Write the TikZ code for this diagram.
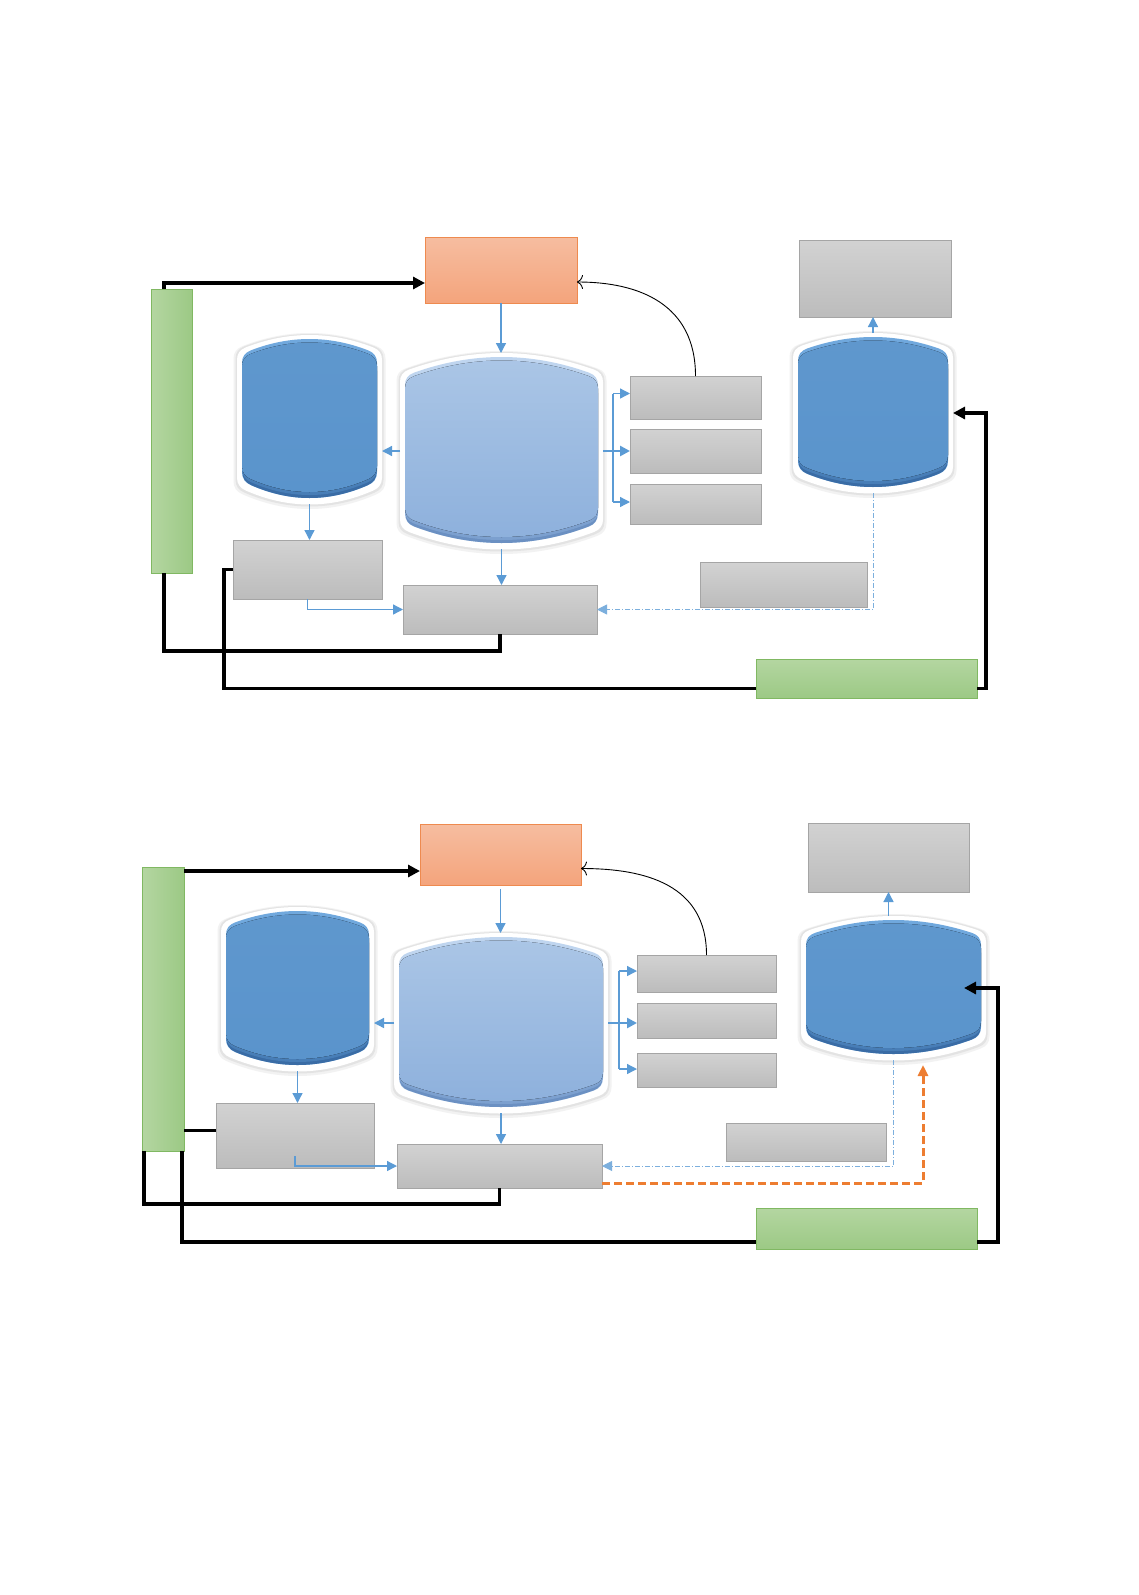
\documentclass[tikz,border=0pt]{standalone}
\usetikzlibrary{arrows.meta,calc}
\definecolor{gbTop}{HTML}{D2D2D2}
\definecolor{gbBot}{HTML}{BCBCBC}
\definecolor{gbBorder}{HTML}{A5A5A5}
\definecolor{orTop}{HTML}{F6BDA0}
\definecolor{orBot}{HTML}{F4A47C}
\definecolor{orBorder}{HTML}{EE8A4F}
\definecolor{grL}{HTML}{B4D6A1}
\definecolor{grR}{HTML}{9CC985}
\definecolor{grBorder}{HTML}{80B862}
\definecolor{arrBlue}{HTML}{5B9BD5}
\definecolor{dkBody}{HTML}{5A94CC}
\definecolor{dkRim}{HTML}{3A6CA5}
\definecolor{dkTop}{HTML}{70A8DD}
\definecolor{ltBodyT}{HTML}{ABC6E6}
\definecolor{ltBodyB}{HTML}{8DB0DC}
\definecolor{ltRim}{HTML}{6B90C2}
\definecolor{ltTop}{HTML}{BFD5EF}
\definecolor{orDash}{HTML}{ED7D31}
\tikzset{
  anchorbox/.style={inner sep=0pt, outer sep=0pt},
  graybox/.style={anchorbox, draw=gbBorder, line width=0.9pt, top color=gbTop, bottom color=gbBot},
  orangebox/.style={anchorbox, draw=orBorder, line width=0.9pt, top color=orTop, bottom color=orBot},
  greenv/.style={anchorbox, draw=grBorder, line width=0.9pt, left color=grL, right color=grR},
  greenh/.style={anchorbox, draw=grBorder, line width=0.9pt, top color=grL, bottom color=grR},
  dktop/.style={fill=dkTop},
  dkrim/.style={fill=dkRim},
  dkrimb/.style={fill=dkRim!55!dkBody},
  dkbody/.style={top color=dkBody!97!white, bottom color=dkBody},
  lttop/.style={fill=ltTop},
  ltrim/.style={fill=ltRim},
  ltrimb/.style={fill=ltRim!50!ltBodyB},
  ltbody/.style={top color=ltBodyT, bottom color=ltBodyB},
  blk/.style={line width=3.2pt, black},
  blkarrow/.style={blk, -{Triangle[length=12pt,width=12pt]}},
  blueline/.style={line width=1.3pt, arrBlue},
  bluarrow/.style={blueline, -{Triangle[length=10pt,width=10pt]}},
  dasharrow/.style={line width=0.9pt, color=arrBlue!80!white, dash pattern=on 5pt off 2pt on 1pt off 2pt, -{Triangle[length=10pt,width=10pt]}},
  orarrow/.style={line width=3pt, orDash, dash pattern=on 8pt off 4pt, -{Triangle[length=11pt,width=10pt]}},
  curvearrow/.style={line width=0.9pt, black, -{To[length=6pt,width=14pt]}}
}
\newcommand\bshape[7]{%
 \pgfmathsetmacro\zzxa{#2}\pgfmathsetmacro\zzya{#3}\pgfmathsetmacro\zzxb{#4}\pgfmathsetmacro\zzyb{#5}%
 \pgfmathsetmacro\zzw{(\zzxb-\zzxa)/2}\pgfmathsetmacro\zzxm{(\zzxa+\zzxb)/2}%
 \pgfmathsetmacro\zzr{9}%
 \pgfmathsetmacro\zzdx{\zzw-\zzr}%
 \pgfmathsetmacro\zzk{(#6)/(\zzw*\zzw)}%
 \pgfmathsetmacro\zzyP{\zzya+\zzk*\zzdx*\zzdx}%
 \pgfmathsetmacro\zzyC{\zzya-\zzk*\zzdx*\zzdx}%
 \pgfmathsetmacro\zzyK{\zzyP+2*\zzk*\zzdx*\zzr}%
 \pgfmathsetmacro\zzyS{\zzyK+\zzr}%
 \pgfmathsetmacro\zzkb{(#7)/(\zzw*\zzw)}%
 \pgfmathsetmacro\zzyPb{\zzyb-\zzkb*\zzdx*\zzdx}%
 \pgfmathsetmacro\zzyCb{\zzyb+\zzkb*\zzdx*\zzdx}%
 \pgfmathsetmacro\zzyKb{\zzyPb-2*\zzkb*\zzdx*\zzr}%
 \pgfmathsetmacro\zzySb{\zzyKb-\zzr}%
 \pgfmathsetmacro\zzxP{\zzxa+\zzr}\pgfmathsetmacro\zzxQ{\zzxb-\zzr}%
 \fill[#1] (\zzxa,\zzyS)
   .. controls (\zzxa,{\zzyS+2/3*(\zzyK-\zzyS)}) and ({\zzxP-2/3*\zzr},{\zzyP+2/3*(\zzyK-\zzyP)}) .. (\zzxP,\zzyP)
   .. controls ({\zzxP+2/3*(\zzxm-\zzxP)},{\zzyP+2/3*(\zzyC-\zzyP)}) and ({\zzxQ-2/3*(\zzxQ-\zzxm)},{\zzyP+2/3*(\zzyC-\zzyP)}) .. (\zzxQ,\zzyP)
   .. controls ({\zzxQ+2/3*\zzr},{\zzyP+2/3*(\zzyK-\zzyP)}) and (\zzxb,{\zzyS+2/3*(\zzyK-\zzyS)}) .. (\zzxb,\zzyS)
   -- (\zzxb,\zzySb)
   .. controls (\zzxb,{\zzySb+2/3*(\zzyKb-\zzySb)}) and ({\zzxQ+2/3*\zzr},{\zzyPb+2/3*(\zzyKb-\zzyPb)}) .. (\zzxQ,\zzyPb)
   .. controls ({\zzxQ-2/3*(\zzxQ-\zzxm)},{\zzyPb+2/3*(\zzyCb-\zzyPb)}) and ({\zzxP+2/3*(\zzxm-\zzxP)},{\zzyPb+2/3*(\zzyCb-\zzyPb)}) .. (\zzxP,\zzyPb)
   .. controls ({\zzxP-2/3*\zzr},{\zzyPb+2/3*(\zzyKb-\zzyPb)}) and (\zzxa,{\zzySb+2/3*(\zzyKb-\zzySb)}) .. (\zzxa,\zzySb)
   -- cycle;}
\newcommand\barrel[8]{%
 \bshape{black!5}{#2-8.5}{#3-6}{#4+8.5}{#5+11}{#6+2}{#7+2}%
 \bshape{black!11}{#2-6.5}{#3-5}{#4+6.5}{#5+8.5}{#6+1}{#7+1}%
 \bshape{white}{#2-5}{#3-4}{#4+5}{#5+6.5}{#6+1}{#7+1}%
 \bshape{#8top}{#2}{#3}{#4}{#5}{#6}{#7}%
 \bshape{#8rim}{#2+0.5}{#3+8}{#4-0.5}{#5}{#6}{#7}%
 \bshape{#8rimb}{#2}{#3+8}{#4}{#5-3}{#6}{#7}%
 \bshape{#8body}{#2}{#3+3.5}{#4}{#5-6}{#6}{#7}%
 \node[anchorbox, minimum width={((#4)-(#2)+10)*1pt}, minimum height={((#5)-(#3)+10)*1pt}] (#1) at ({((#2)+(#4))/2},{((#3)+(#5))/2+1}) {};}
\newcommand\bx[6]{\node[#6, minimum width={((#4)-(#2))*1pt}, minimum height={((#5)-(#3))*1pt}] (#1) at ({((#2)+(#4))/2},{((#3)+(#5))/2}) {};}
\begin{document}
\begin{tikzpicture}[x=1pt,y=-1pt]
\useasboundingbox[fill=white] (0,0) rectangle (1139,1595);
% ================= TOP DIAGRAM =================
\bx{O1}{425}{237}{577}{303}{orangebox}
\bx{G1v}{151}{289}{192}{573}{greenv}
\bx{T1}{799}{240}{951}{317}{graybox}
\bx{S1}{630}{376}{761}{419}{graybox}
\bx{S2}{630}{429}{761}{473}{graybox}
\bx{S3}{630}{484}{761}{524}{graybox}
\bx{B1a}{233}{540}{382}{599}{graybox}
\bx{B1b}{403}{585}{597}{634}{graybox}
\bx{M1}{700}{562}{867}{607}{graybox}
\bx{H1}{756}{659}{977}{698}{greenh}
\barrel{L1}{242}{339}{377}{498}{15}{17}{dk}
\barrel{C1}{405}{357}{598}{543}{19}{20}{lt}
\barrel{R1}{798}{337}{948}{487}{15}{17}{dk}
% connectors
\draw[blkarrow] ([xshift=13pt]G1v.north west) |- ([yshift=-13pt]O1.west);
\draw[curvearrow] (S1.north) .. controls +(0,-72) and +(62,0) .. ([yshift=-12pt]O1.east);
\draw[bluarrow] (O1.south) -- (O1.south |- C1.north);
\draw[bluarrow] (C1.west) -- (C1.west -| L1.east);
\draw[bluarrow] (L1.south) -- (L1.south |- B1a.north);
\draw[bluarrow] (B1a.south) |- (B1b.west);
\draw[bluarrow] (C1.south) -- (C1.south |- B1b.north);
\coordinate (F1) at ([xshift=-17pt]S2.west);
\coordinate (s1w) at ([yshift=4pt]S1.west);
\coordinate (s3w) at ([yshift=2pt]S3.west);
\draw[blueline] (s1w -| F1) -- (s3w -| F1);
\draw[bluarrow] (s1w -| F1) -- (s1w);
\draw[bluarrow] (s3w -| F1) -- (s3w);
\draw[bluarrow, line width=2.8pt] (C1.east) -- (C1.east -| S2.west);
\draw[bluarrow] (R1.north) -- (R1.north |- T1.south);
\draw[dasharrow] (R1.south) |- (B1b.east);
\draw[blkarrow] ([yshift=-10pt]H1.east) -- ++(9,0) |- (R1.east);
\draw[blk] ([yshift=-10pt]H1.west) -| ([xshift=-9pt]B1a.west) -- (B1a.west);
\draw[blk] ([xshift=13pt]G1v.south west) |- ([yshift=-17pt]B1b.south) -- (B1b.south);
% ================= BOTTOM DIAGRAM =================
\bx{O2}{420}{824}{581}{885}{orangebox}
\bx{G2v}{142}{867}{184}{1151}{greenv}
\bx{T2}{808}{823}{969}{892}{graybox}
\bx{S4}{637}{955}{776}{992}{graybox}
\bx{S5}{637}{1003}{776}{1038}{graybox}
\bx{S6}{637}{1053}{776}{1087}{graybox}
\bx{B2a}{216}{1103}{374}{1168}{graybox}
\bx{B2b}{397}{1144}{602}{1188}{graybox}
\bx{M2}{726}{1123}{886}{1161}{graybox}
\bx{H2}{756}{1208}{977}{1249}{greenh}
\barrel{L2}{226}{911}{369}{1065}{15}{17}{dk}
\barrel{C2}{399}{937}{603}{1107}{19}{20}{lt}
\barrel{R2}{806}{920}{981}{1054}{16}{18}{dk}
% connectors
\coordinate (g2n) at ([yshift=-4pt]G2v.north east);
\draw[blkarrow] (g2n) -- (g2n -| O2.west);
\draw[curvearrow] (S4.north) .. controls +(0,-70) and +(65,0) .. ([yshift=-14pt]O2.east);
\draw[bluarrow] ([yshift=-4pt]O2.south) -- (O2.south |- C2.north);
\draw[bluarrow] (C2.west) -- (C2.west -| L2.east);
\draw[bluarrow] (L2.south) -- (L2.south |- B2a.north);
\draw[bluarrow] ([yshift=12pt]B2a.south) |- (B2b.west);
\draw[bluarrow] (C2.south) -- (C2.south |- B2b.north);
\coordinate (F2) at ([xshift=-18pt]S5.west);
\coordinate (s4w) at ([yshift=2.5pt]S4.west);
\coordinate (s6w) at ([yshift=1pt]S6.west);
\draw[blueline] (s4w -| F2) -- (s6w -| F2);
\draw[bluarrow] (s4w -| F2) -- (s4w);
\draw[bluarrow] (s6w -| F2) -- (s6w);
\draw[bluarrow, line width=2.8pt] (C2.east) -- (C2.east -| S5.west);
\draw[bluarrow] (T2.south |- R2.north) -- (T2.south);
\draw[dasharrow] (R2.south) |- (B2b.east);
\draw[orarrow] ([yshift=-17pt]B2b.east) -| ([xshift=29.5pt,yshift=-5pt]R2.south);
\draw[blkarrow] ([yshift=-13.5pt]H2.east) -- ++(21,0) |- ([xshift=-22pt]R2.east);
\coordinate (b2aw) at ([yshift=5pt]B2a.west);
\draw[blk] (b2aw -| G2v.east) -- (b2aw);
\draw[blk] ([xshift=2pt]G2v.south west) |- ([yshift=-16pt]B2b.south) -- (B2b.south);
\draw[blk] ([xshift=-2pt]G2v.south east) |- ([yshift=-13.5pt]H2.west);
\end{tikzpicture}
\end{document}
